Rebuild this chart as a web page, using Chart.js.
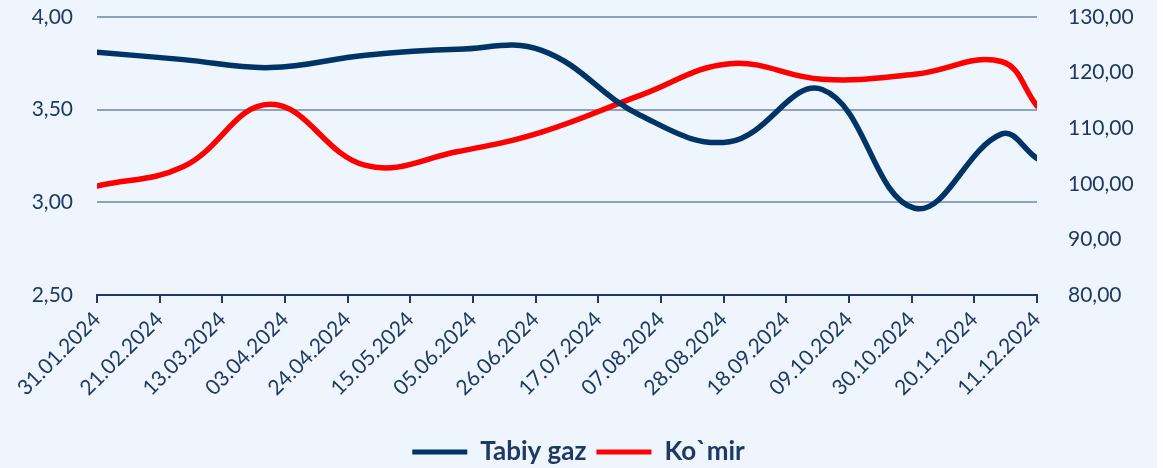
<!DOCTYPE html>
<html><head><meta charset="utf-8">
<script src="https://cdn.jsdelivr.net/npm/chart.js@4.4.1/dist/chart.umd.min.js"></script>
<style>
html,body{margin:0;padding:0;background:#ffffff;overflow:hidden;}
#wrap{width:1157px;height:468px;background:#EEF5FC;overflow:hidden;}
canvas{display:block;}
</style></head><body>
<div id="wrap"><canvas id="c" width="1157" height="475"></canvas></div>
<script>
const dates = ['31.01.2024','29.02.2024','29.03.2024','30.04.2024','31.05.2024','28.06.2024','31.07.2024','30.08.2024','30.09.2024','31.10.2024','29.11.2024','11.12.2024'];
const gasValues = [3.81, 3.77, 3.727, 3.794, 3.826, 3.82, 3.47, 3.327, 3.609, 2.968, 3.368, 3.237];
const coalValues = [99.6, 103.1, 114.3, 103.3, 105.8, 109.3, 115.9, 121.6, 118.8, 119.7, 122.0, 114.0];
const tickLabels = ['31.01.2024','21.02.2024','13.03.2024','03.04.2024','24.04.2024','15.05.2024','05.06.2024','26.06.2024','17.07.2024','07.08.2024','28.08.2024','18.09.2024','09.10.2024','30.10.2024','20.11.2024','11.12.2024'];
const seriesNames = ['Tabiy gaz', 'Ko`mir'];
const leftTicks = [2.5, 3.0, 3.5, 4.0];
const rightTicks = [80, 90, 100, 110, 120, 130];

const NAVY = '#1F3864';
const BLUE = '#003366';
const RED = '#FF0000';
const GRID = '#8EA3BB';
const FONT = 'Lato, "Open Sans", sans-serif';

function dayNum(s){ const p = s.split('.').map(Number); return Date.UTC(p[2], p[1]-1, p[0]) / 86400000; }
const base = dayNum(tickLabels[0]);
const toXY = (vals) => vals.map((v, i) => ({x: dayNum(dates[i]) - base, y: v}));
const fmt = v => Number(v).toFixed(2).replace('.', ',');

new Chart(document.getElementById('c'), {
  type: 'line',
  data: {
    datasets: [
      {label: seriesNames[0], data: toXY(gasValues), yAxisID: 'y', borderColor: BLUE, backgroundColor: BLUE,
       borderWidth: 5.5, pointRadius: 0, tension: 0.4, borderCapStyle: 'round', borderJoinStyle: 'round'},
      {label: seriesNames[1], data: toXY(coalValues), yAxisID: 'y2', borderColor: RED, backgroundColor: RED,
       borderWidth: 5.5, pointRadius: 0, tension: 0.4, borderCapStyle: 'round', borderJoinStyle: 'round'}
    ]
  },
  options: {
    responsive: false,
    animation: false,
    devicePixelRatio: 1,
    layout: {padding: {top: 17, left: 0, right: 0, bottom: 0}},
    plugins: {
      tooltip: {enabled: false},
      legend: {
        position: 'bottom',
        labels: {
          color: NAVY,
          font: {family: FONT, size: 26, weight: 'bold'},
          boxWidth: 55, boxHeight: 5, padding: 10,
          generateLabels: (chart) => Chart.defaults.plugins.legend.labels.generateLabels(chart).map(l => Object.assign(l, {lineWidth: 0}))
        }
      }
    },
    scales: {
      x: {
        type: 'linear',
        min: 0,
        max: dayNum(tickLabels[tickLabels.length-1]) - base,
        afterBuildTicks: (s) => { s.ticks = tickLabels.map(t => ({value: dayNum(t) - base})); },
        afterFit: (s) => { s.height = 134; },
        ticks: {
          autoSkip: false, minRotation: 45, maxRotation: 45, padding: 4,
          color: NAVY, font: {family: FONT, size: 21},
          callback: (v, i) => tickLabels[i]
        },
        grid: {drawOnChartArea: false, drawTicks: true, tickLength: 8, color: NAVY, lineWidth: 2},
        border: {display: true, color: NAVY, width: 2}
      },
      y: {
        position: 'left', min: 2.5, max: 4.0,
        afterBuildTicks: (s) => { s.ticks = leftTicks.map(v => ({value: v})); },
        afterFit: (s) => { s.width = 97; s.paddingTop = 0; s.paddingBottom = 0; },
        ticks: {color: NAVY, font: {family: FONT, size: 21}, padding: 24, callback: v => fmt(v)},
        grid: {color: GRID, lineWidth: 2, drawTicks: false},
        border: {display: false}
      },
      y2: {
        position: 'right', min: 80, max: 130,
        afterBuildTicks: (s) => { s.ticks = rightTicks.map(v => ({value: v})); },
        afterFit: (s) => { s.width = 120; s.paddingTop = 0; s.paddingBottom = 0; },
        ticks: {color: NAVY, font: {family: FONT, size: 21}, padding: 31, callback: v => fmt(v)},
        grid: {display: false, drawTicks: false},
        border: {display: false}
      }
    }
  }
});
</script>
</body></html>
